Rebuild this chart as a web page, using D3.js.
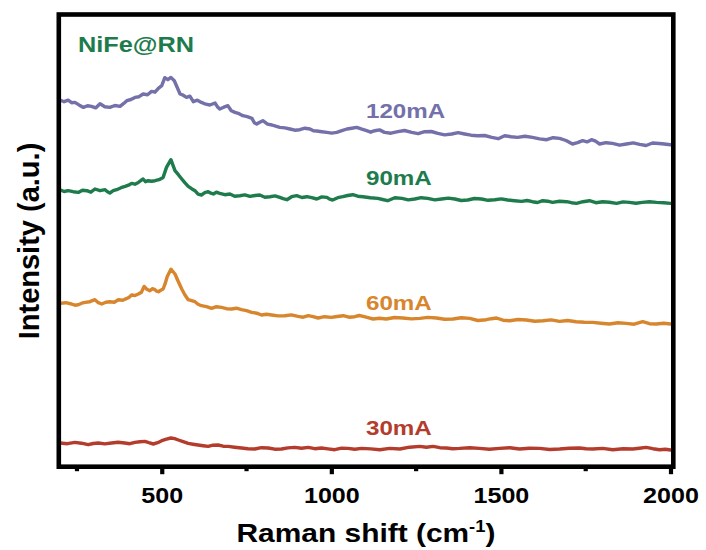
<!DOCTYPE html>
<html>
<head>
<meta charset="utf-8">
<script src="https://cdn.jsdelivr.net/npm/d3@7"></script>
<style>
  body { margin: 0; background: #fff; }
  svg { display: block; }
  text { font-family: Arial, "Liberation Sans", sans-serif; font-weight: bold; }
</style>
</head>
<body>
<svg id="chart" width="706" height="550"></svg>
<script>
// --- data: [Raman shift (cm-1), intensity (a.u., stacked offset included)] ---
const spec120 = [
  [200,3667],[212,3650],[224,3665],[234,3640],[244,3643],[256,3618],[269,3593],[281,3610],[293,3603],[305,3588],
  [318,3630],[332,3600],[347,3593],[362,3612],[377,3603],[387,3630],[397,3660],[409,3672],[421,3693],[433,3700],
  [445,3727],[458,3720],[470,3753],[480,3745],[490,3783],[500,3810],[509,3890],[518,3870],[527,3893],[537,3860],
  [554,3727],[563,3715],[573,3693],[583,3705],[593,3650],[605,3665],[617,3643],[630,3625],[642,3617],[657,3637],
  [664,3600],[671,3577],[683,3595],[695,3610],[705,3560],[716,3543],[728,3530],[739,3510],[752,3500],[766,3483],
  [773,3440],[780,3427],[789,3445],[798,3460],[812,3425],[825,3417],[836,3405],[848,3393],[863,3388],[878,3377],
  [892,3365],[907,3370],[922,3385],[937,3377],[947,3360],[957,3357],[972,3350],[987,3343],[1001,3336],[1016,3343],
  [1031,3360],[1046,3377],[1060,3385],[1075,3393],[1090,3375],[1104,3360],[1116,3345],[1128,3360],[1142,3368],[1157,3343],
  [1176,3335],[1196,3350],[1216,3362],[1237,3343],[1256,3330],[1275,3350],[1295,3352],[1314,3333],[1334,3318],[1355,3327],
  [1374,3340],[1393,3327],[1412,3315],[1431,3310],[1452,3312],[1473,3293],[1492,3280],[1511,3310],[1530,3300],[1549,3293],
  [1571,3305],[1593,3293],[1614,3278],[1635,3270],[1654,3290],[1673,3283],[1692,3262],[1711,3227],[1726,3240],[1741,3260],
  [1754,3248],[1767,3270],[1779,3255],[1791,3227],[1810,3240],[1829,3233],[1850,3215],[1870,3227],[1890,3238],[1909,3223],
  [1928,3212],[1947,3237],[1975,3230],[2000,3220]
];
const spec90 = [
  [200,2770],[212,2752],[224,2760],[239,2750],[254,2743],[266,2765],[279,2760],[291,2745],[303,2777],[318,2760],
  [333,2770],[340,2750],[347,2737],[357,2760],[367,2770],[380,2790],[392,2803],[402,2815],[411,2833],[421,2825],
  [431,2843],[438,2860],[445,2877],[452,2850],[460,2860],[470,2855],[480,2860],[492,2870],[504,2893],[514,2993],
  [527,3070],[539,2960],[549,2920],[559,2877],[568,2840],[578,2803],[588,2780],[598,2760],[607,2725],[617,2717],
  [627,2740],[637,2750],[645,2735],[652,2727],[661,2745],[671,2733],[686,2720],[701,2727],[715,2705],[730,2710],
  [745,2718],[760,2703],[775,2712],[789,2717],[804,2695],[819,2700],[834,2708],[848,2693],[858,2680],[869,2670],
  [883,2700],[898,2710],[913,2692],[928,2700],[942,2690],[957,2677],[972,2698],[987,2693],[995,2675],[1004,2667],
  [1019,2690],[1034,2700],[1048,2712],[1063,2720],[1078,2705],[1093,2700],[1115,2690],[1137,2683],[1151,2672],[1166,2660],
  [1187,2690],[1208,2683],[1227,2668],[1246,2677],[1265,2690],[1284,2683],[1305,2668],[1325,2677],[1345,2686],[1364,2677],
  [1383,2662],[1402,2667],[1422,2682],[1443,2677],[1462,2664],[1482,2670],[1501,2678],[1520,2667],[1540,2660],[1561,2653],
  [1577,2662],[1593,2650],[1608,2642],[1623,2660],[1638,2655],[1652,2643],[1673,2655],[1694,2650],[1708,2640],[1723,2633],
  [1742,2650],[1761,2660],[1780,2640],[1800,2650],[1820,2645],[1841,2633],[1860,2648],[1879,2643],[1898,2635],[1917,2643],
  [1938,2650],[1959,2643],[1980,2640],[2000,2633]
];
const spec60 = [
  [200,1633],[217,1640],[234,1627],[244,1615],[254,1620],[264,1635],[274,1643],[288,1650],[303,1670],[313,1640],
  [323,1627],[335,1645],[347,1650],[360,1645],[372,1670],[385,1665],[397,1683],[404,1695],[411,1717],[421,1712],
  [431,1727],[440,1745],[448,1803],[456,1775],[465,1760],[472,1780],[480,1770],[485,1755],[490,1750],[497,1765],
  [504,1777],[510,1830],[516,1900],[527,1975],[539,1927],[549,1850],[559,1777],[568,1720],[578,1670],[588,1660],
  [598,1650],[607,1625],[617,1610],[632,1600],[647,1583],[661,1600],[676,1593],[691,1580],[706,1577],[720,1585],
  [735,1570],[750,1560],[765,1543],[780,1535],[794,1517],[809,1525],[824,1517],[843,1508],[863,1510],[882,1518],
  [902,1503],[917,1495],[932,1510],[946,1500],[961,1487],[980,1500],[1000,1493],[1017,1502],[1035,1510],[1052,1495],
  [1069,1500],[1082,1512],[1094,1503],[1108,1490],[1123,1477],[1142,1485],[1162,1477],[1186,1492],[1211,1487],[1236,1478],
  [1261,1483],[1285,1493],[1310,1487],[1334,1475],[1359,1477],[1383,1490],[1408,1483],[1432,1462],[1457,1470],[1472,1480],
  [1487,1487],[1506,1465],[1526,1460],[1550,1472],[1575,1467],[1600,1455],[1624,1460],[1648,1468],[1673,1453],[1697,1462],
  [1722,1450],[1746,1445],[1771,1443],[1795,1435],[1820,1427],[1845,1440],[1869,1433],[1893,1425],[1918,1450],[1938,1430],
  [1958,1427],[1980,1435],[2000,1427]
];
const spec30 = [
  [200,237],[222,230],[244,243],[263,235],[283,220],[298,232],[313,237],[332,228],[352,237],[371,245],
  [391,237],[406,230],[421,243],[436,250],[450,253],[462,240],[475,227],[488,240],[500,260],[514,275],
  [527,287],[538,280],[549,267],[563,250],[578,233],[592,225],[607,217],[622,210],[637,203],[651,215],
  [666,217],[681,205],[696,203],[715,195],[735,187],[754,180],[774,177],[794,190],[814,187],[833,175],
  [853,177],[872,188],[892,193],[912,185],[932,193],[951,180],[971,187],[990,178],[1010,170],[1030,185],
  [1049,183],[1069,175],[1089,183],[1116,178],[1143,170],[1172,183],[1202,177],[1231,195],[1261,203],[1280,195],
  [1300,203],[1320,190],[1339,187],[1358,180],[1378,183],[1408,190],[1437,183],[1466,175],[1496,183],[1526,190],
  [1555,177],[1584,185],[1614,183],[1644,172],[1673,177],[1702,185],[1732,187],[1751,180],[1771,177],[1800,183],
  [1830,170],[1860,180],[1889,177],[1908,185],[1928,193],[1948,180],[1968,170],[1985,175],[2000,167]
];

const seriesNames = ["30mA", "60mA", "90mA", "120mA"];
const xTicks = [500, 1000, 1500, 2000];
const xMinorTicks = [250, 750, 1250, 1750];

// --- layout ---
const W = 706, H = 550;
const plot = { left: 60, right: 670.5, top: 14.5, bottom: 466.7 };
const TEXT_STRETCH = 1.15;

const svg = d3.select("#chart");
svg.append("rect").attr("width", W).attr("height", H).attr("fill", "#fff");

const x = d3.scaleLinear().domain([200, 2000]).range([plot.left, plot.right]);
const y = d3.scaleLinear().domain([0, 4522]).range([plot.bottom, plot.top]);

const series = [
  { name: seriesNames[0], data: spec30,  color: "#b43c2c", labelY: 435 },
  { name: seriesNames[1], data: spec60,  color: "#d8862e", labelY: 310 },
  { name: seriesNames[2], data: spec90,  color: "#1e7c4c", labelY: 185 },
  { name: seriesNames[3], data: spec120, color: "#7370aa", labelY: 118.3 }
];

// widen text to match the reference's broader lettering
function stretch(sel, k) {
  sel.each(function() {
    const w = this.getComputedTextLength();
    d3.select(this).attr("textLength", w * k).attr("lengthAdjust", "spacingAndGlyphs");
  });
}

/* lines */
const line = d3.line().x(d => x(d[0])).y(d => y(d[1]));
svg.append("g").selectAll("path.spec")
  .data(series)
  .join("path")
  .attr("class", "spec")
  .attr("d", s => line(s.data))
  .attr("fill", "none")
  .attr("stroke", s => s.color)
  .attr("stroke-width", 3.4)
  .attr("stroke-linejoin", "round")
  .attr("stroke-linecap", "round");

/* series labels */
svg.selectAll("text.lab")
  .data(series)
  .join("text")
  .attr("class", "lab")
  .attr("x", 366)
  .attr("y", s => s.labelY)
  .attr("fill", s => s.color)
  .attr("font-size", 21)
  .text(s => s.name)
  .call(stretch, TEXT_STRETCH);

svg.append("text")
  .attr("x", 78).attr("y", 52)
  .attr("fill", "#1e7c4c")
  .attr("font-size", 22)
  .text("NiFe@RN")
  .call(stretch, TEXT_STRETCH);

/* x axis */
const gx = svg.append("g").attr("transform", `translate(0,${plot.bottom})`);
gx.call(d3.axisBottom(x).tickValues(xTicks).tickFormat(d3.format("d")).tickSize(7.5).tickSizeOuter(0));
gx.select(".domain").remove();
gx.selectAll(".tick line").attr("stroke", "#000").attr("stroke-width", 4.2);
gx.selectAll(".tick text")
  .attr("y", 36.6).attr("dy", 0)
  .attr("fill", "#000")
  .attr("font-size", 22)
  .attr("font-family", "Arial, 'Liberation Sans', sans-serif")
  .attr("font-weight", "bold")
  .call(stretch, 1.14);

gx.selectAll("line.minor")
  .data(xMinorTicks)
  .join("line")
  .attr("class", "minor")
  .attr("x1", d => x(d)).attr("x2", d => x(d))
  .attr("y1", 0).attr("y2", 4.5)
  .attr("stroke", "#000").attr("stroke-width", 4.2);

/* frame */
svg.append("rect")
  .attr("x", 58.8).attr("y", plot.top)
  .attr("width", 673.3 - 58.8).attr("height", plot.bottom - plot.top)
  .attr("fill", "none")
  .attr("stroke", "#000")
  .attr("stroke-width", 4.6);

/* axis titles */
const xt = svg.append("text")
  .attr("x", (235 + 497) / 2).attr("y", 542)
  .attr("text-anchor", "middle")
  .attr("font-size", 26)
  .attr("fill", "#000");
xt.append("tspan").text("Raman shift (cm");
xt.append("tspan").attr("font-size", 16).attr("dy", -10).text("-1");
xt.append("tspan").attr("dy", 10).text(")");
xt.call(stretch, TEXT_STRETCH);

svg.append("text")
  .attr("transform", `translate(39,241) rotate(-90)`)
  .attr("text-anchor", "middle")
  .attr("font-size", 29)
  .attr("fill", "#000")
  .text("Intensity (a.u.)");
</script>
</body>
</html>
